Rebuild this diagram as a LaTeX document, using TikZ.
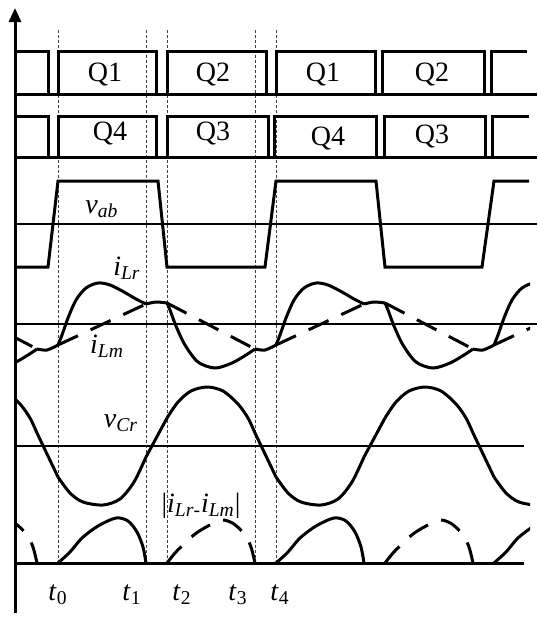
\documentclass[tikz,border=0pt]{standalone}
\usepackage{fontspec}
\setmainfont{Liberation Serif}
\usetikzlibrary{arrows.meta}
\tikzset{
  wave/.style={line width=1.5pt},
  midline/.style={line width=1.2pt},
  idash/.style={dash pattern=on 11pt off 7pt},
  tmark/.style={line width=0.4pt,dash pattern=on 1.5pt off 1pt,black!75},
  lbl/.style={font=\fontsize{14}{16}\selectfont,inner sep=0pt,anchor=base},
}
\begin{document}
\begin{tikzpicture}[x=0.5pt,y=-0.5pt]
  % Resonant converter key waveforms over one switching period
  \useasboundingbox (0,0) rectangle (537,617);
  \draw[tmark] (58,30) -- (58,563);
  \draw[tmark] (146,30) -- (146,563);
  \draw[tmark] (167,30) -- (167,563);
  \draw[tmark] (255,30) -- (255,563);
  \draw[tmark] (276,30) -- (276,563);
  % zero lines
  \draw[wave] (15,94) -- (537,94);
  \draw[wave] (15,157) -- (537,157);
  \draw[midline] (15,224) -- (537,224);
  \draw[midline] (15,324) -- (537,324);
  \draw[midline] (15,446) -- (524,446);
  \draw[wave] (15,563) -- (524,563);
  % gate signals
  \draw[wave] (15,51) -- (48,51) -- (48,94);
  \draw[wave] (58,94) -- (58,51) -- (156,51) -- (156,94);
  \draw[wave] (167,94) -- (167,51) -- (266,51) -- (266,94);
  \draw[wave] (276,94) -- (276,51) -- (375,51) -- (375,94);
  \draw[wave] (382,94) -- (382,51) -- (484,51) -- (484,94);
  \draw[wave] (491,94) -- (491,51) -- (527,51);
  \draw[wave] (15,116) -- (48,116) -- (48,157);
  \draw[wave] (58,157) -- (58,116) -- (156,116) -- (156,157);
  \draw[wave] (167,157) -- (167,116) -- (268,116) -- (268,157);
  \draw[wave] (274,157) -- (274,116) -- (376,116) -- (376,157);
  \draw[wave] (384,157) -- (384,116) -- (485,116) -- (485,157);
  \draw[wave] (492,157) -- (492,116) -- (529,116);
  % bridge voltage
  \draw[wave] (15,267) -- (48,267) -- (58,181) -- (158,181) -- (167,267)
    -- (265,267) -- (276,181) -- (376,181) -- (385,267) -- (482,267)
    -- (494,181) -- (529,181);
  % resonant waveforms, repeated each period
  \begin{scope}
    \clip (15,0) rectangle (530,617);
    \foreach \s in {-218,0,218,436}{
      \begin{scope}[shift={({58+\s},0)}]
        \draw[wave] plot[smooth] coordinates {(0,345) (4,335) (10,318) (18,300) (28,288) (40,283) (52,285) (66,292) (78,299) (88,304)};
        \draw[wave] plot[smooth] coordinates {(88,304) (98,302) (109,303)};
        \draw[wave] plot[smooth] coordinates {(109,303) (112,310) (118,326) (127,345) (140,362) (157,368) (174,363) (188,355) (197,349)};
        \draw[wave] plot[smooth] coordinates {(197,349) (207,350) (218,345)};
        \draw[wave,idash] (0,345) -- (88,304);
        \draw[wave,idash] (109,303) -- (197,349);
        \draw[wave] plot[smooth] coordinates {(0,477) (12,493) (25,502) (45,505) (62,499) (76,482) (88,457)};
        \draw[wave] (88,457) -- (109,418);
        \draw[wave] plot[smooth] coordinates {(109,418) (120,402) (133,391) (149,387) (165,391) (180,404) (190,418) (197,433)};
        \draw[wave] (197,433) -- (218,477);
        \draw[wave] plot[smooth] coordinates {(0,563) (12,552) (24,538) (40,526) (58,518) (70,521) (79,532) (85,547) (88,563)};
        \draw[wave,idash] plot[smooth] coordinates {(109,563) (117,553) (125,545) (137,534) (150,526) (164,520) (176,524) (187,535) (193,547) (197,563)};
      \end{scope}
    }
  \end{scope}
  % vertical axis
  \draw[wave,-{Triangle[length=7pt,width=6pt]}] (15,613) -- (15,8);
  % labels
  \node[lbl] (q1a) at (105,81) {Q1};
  \node[lbl] (q2a) at (213,81) {Q2};
  \node[lbl] (q1b) at (323,81) {Q1};
  \node[lbl] (q2b) at (432,81) {Q2};
  \node[lbl] (q4a) at (110,140) {Q4};
  \node[lbl] (q3a) at (213,140) {Q3};
  \node[lbl] (q4b) at (328,145) {Q4};
  \node[lbl] (q3b) at (432,143) {Q3};
  \node[lbl] (vab) at (102,213) {\textit{v}\textsubscript{\textit{ab}}};
  \node[lbl] (ilr) at (127,275) {\textit{i}\textsubscript{\textit{Lr}}};
  \node[lbl] (ilm) at (107,353) {\textit{i}\textsubscript{\textit{Lm}}};
  \node[lbl] (vcr) at (121,427) {\textit{v}\textsubscript{\textit{Cr}}};
  \node[lbl] (idiff) at (201,512) {|\textit{i}\textsubscript{\textit{Lr}-}\textit{i}\textsubscript{\textit{Lm}}|};
  \node[lbl] (t0) at (58,600) {\textit{t}\textsubscript{0}};
  \node[lbl] (t1) at (132,600) {\textit{t}\textsubscript{1}};
  \node[lbl] (t2) at (182,600) {\textit{t}\textsubscript{2}};
  \node[lbl] (t3) at (238,600) {\textit{t}\textsubscript{3}};
  \node[lbl] (t4) at (280,600) {\textit{t}\textsubscript{4}};
\end{tikzpicture}
\end{document}
